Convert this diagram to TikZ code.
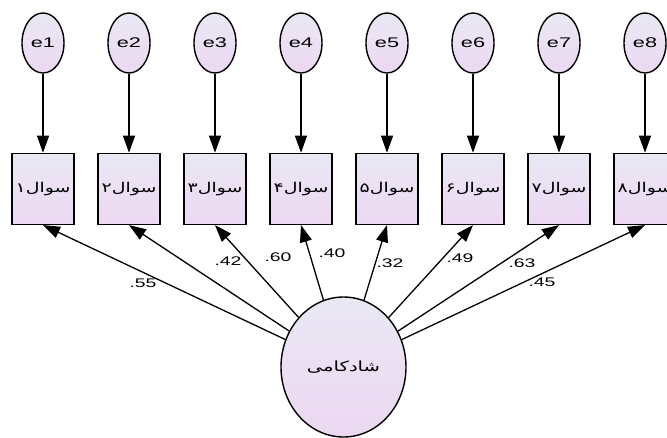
\documentclass[tikz,border=0pt]{standalone}
\usepackage{fontspec}
\setmainfont{Liberation Sans}[FakeStretch=1.55]
\newfontfamily\farsi[Script=Arabic,FakeStretch=1.4]{DejaVu Sans}
\TeXXeTstate=1
\usetikzlibrary{arrows.meta,shapes.geometric,positioning}

\definecolor{lavtop}{RGB}{234,232,244}
\definecolor{lavbot}{RGB}{236,216,242}

\tikzset{
  err/.style={ellipse,draw,line width=1.4pt,top color=lavtop,bottom color=lavbot,
    minimum width=42pt,minimum height=60pt,inner sep=0pt,font=\fontsize{14}{14}\selectfont},
  obs/.style={rectangle,draw,line width=1.4pt,top color=lavtop,bottom color=lavbot,
    minimum width=62pt,minimum height=71pt,inner sep=0pt,font=\farsi\fontsize{13.5}{14}\selectfont},
  fac/.style={ellipse,draw,line width=1.4pt,top color=lavtop,bottom color=lavbot,
    minimum width=125pt,minimum height=140pt,inner sep=0pt,font=\farsi\fontsize{14}{14}\selectfont},
  load/.style={-{Triangle[length=17pt,width=12pt]},line width=1.3pt},
  wt/.style={font=\fontsize{12.5}{13}\selectfont,inner sep=0pt}
}

\begin{document}
\begin{tikzpicture}[x=1pt,y=-1pt]
  \useasboundingbox (0,0) rectangle (667,437);

  % errors and items
  \foreach \i/\d in {1/۱,2/۲,3/۳,4/۴,5/۵,6/۶,7/۷,8/۸}{
    \node[err] (e\i) at ({43+86*(\i-1)},43) {e\i};
    \node[obs,below=79pt of e\i] (q\i) {\beginR سوال\d\endR};
    \draw[load] (e\i) -- (q\i);
  }

  % factor
  \node[fac] (shad) at (343.5,367) {\beginR شادکامی\endR};

  % loadings
  \foreach \i/\w/\x/\y in {1/.55/143/283,2/.42/228/261,3/.60/278/257,4/.40/332/253,
                           5/.32/390/263,6/.49/460/258,7/.63/522/263,8/.45/542/282}{
    \draw[load] (shad) -- (q\i.south);
    \node[wt] (w\i) at (\x,\y) {\w};
  }
\end{tikzpicture}
\end{document}
